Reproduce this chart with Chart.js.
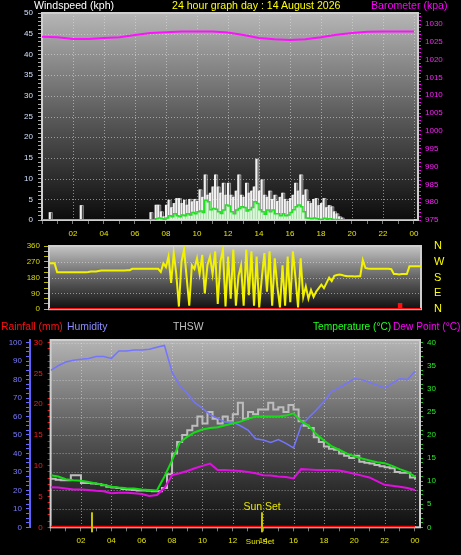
<!DOCTYPE html>
<html><head><meta charset="utf-8">
<script src="https://cdn.jsdelivr.net/npm/chart.js@4/dist/chart.umd.min.js"></script>
<style>
html,body{margin:0;padding:0;background:#000;width:461px;height:555px;overflow:hidden;position:relative;}
canvas{position:absolute;left:0;}
.t{position:absolute;font-family:"Liberation Sans",Arial,sans-serif;font-size:10.6px;line-height:11px;white-space:nowrap;}
</style></head><body>
<canvas id="c1" width="461" height="245" style="top:0px"></canvas>
<canvas id="c2" width="461" height="82" style="top:236px"></canvas>
<canvas id="c3" width="461" height="237" style="top:318px"></canvas>
<div class="t" style="left:34px;top:0px;color:#ffffff">Windspeed (kph)</div>
<div class="t" style="left:172px;top:0px;color:#ffff00">24 hour graph day : 14 August 2026</div>
<div class="t" style="left:371px;top:0px;color:#ff00ff">Barometer (kpa)</div>
<div class="t" style="left:1px;top:321px;color:#ff1010;font-size:10.4px">Rainfall (mm)</div>
<div class="t" style="left:67px;top:321px;color:#8c8cff;font-size:10.4px">Humidity</div>
<div class="t" style="left:173px;top:321px;color:#c0c0c0;font-size:10.4px">THSW</div>
<div class="t" style="left:313px;top:321px;color:#20ff20;font-size:10.2px">Temperature (°C)</div>
<div class="t" style="left:393px;top:321px;color:#ff00ff;font-size:10.2px">Dew Point (°C)</div>
<script>
// ---------- tick labels ----------
const hourTickValues = [2,4,6,8,10,12,14,16,18,20,22,24];
const hourTickText   = ['02','04','06','08','10','12','14','16','18','20','22','00'];
const dirTickValues  = [0,90,180,270,360];
const dirTickText    = ['0','90','180','270','360'];
const compassText    = ['N','E','S','W','N'];

// ---------- sampling intervals (hours) ----------
const windInterval = 1/6;     // 10-minute samples from 00:00
const dirInterval = 1/6;      // 10-minute samples from 00:00
const baroInterval = 1;       // hourly
const climateInterval = 0.5;  // 30-minute samples
const thswInterval = 1/3;     // 20-minute samples

// ---------- panel 1 : wind (kph) and barometer ----------
const windGust = [
 0,0,0,1.8,0,0, 0,0,0,0,0,0, 0,0,0,3.5,0,0, 0,0,0,0,0,0,
 0,0,0,0,0,0, 0,0,0,0,0,0, 0,0,0,0,0,0,
 1.8,0,3.6,3.6,2,0.8,
 3.6,4.8,3,4,5.2,5.2,
 4,4.8,3.6,5,4.4,5,
 4.5,7.3,5.5,10.9,6,6.5,
 8,10.9,8,6.5,8.9,6,
 8.9,6,5.5,7,10.9,6,
 5.5,8.9,6.5,7,8,14.7,
 7,9.7,6,5.5,7,5,
 6,4.5,5.5,6.5,5,4.5,
 5.2,6,8.9,7,10.9,6,
 7.3,4.5,4,5,5.2,3.5,
 4,5.2,3,3.5,3.2,2,
 1.5,0.8,0.5,0,0,0,
 0,0,0,0,0,0, 0,0,0,0,0,0, 0,0,0,0,0,0, 0,0,0,0,0,0,
 0
];
const windAvg = [
 0,0,0,0,0,0, 0,0,0,0,0,0, 0,0,0,0,0,0, 0,0,0,0,0,0,
 0,0,0,0,0,0, 0,0,0,0,0,0, 0,0,0,0,0,0,
 0,0,0.3,0.5,0.3,0.2,
 0.5,1,0.8,1.5,1,0.8,
 1.2,1,1.5,1.2,1.8,1.5,
 2,2.2,1.8,4.8,4.4,2.5,
 2.8,2.6,2,1.6,2.4,3.6,
 3.4,2,1.5,2.4,2.8,3.2,
 3,2.2,2.5,3,4.4,4,
 2.5,2,1.4,2.4,2,2.4,
 1.5,1.5,1,1.5,1,1.2,
 1.8,2.5,3.2,3.6,3.2,2,
 0.5,0.4,0.3,0.5,0.3,0.2,
 0.2,0.4,0.2,0.3,0.2,0,
 0.1,0,0,0,0,0,
 0,0,0,0,0,0, 0,0,0,0,0,0, 0,0,0,0,0,0, 0,0,0,0,0,0,
 0
];
const barometer = [1026.4,1026.3,1025.8,1025.8,1026.1,1026.3,1026.9,1027.5,1027.7,1027.9,1027.9,1027.9,
 1027.6,1026.9,1026.1,1025.7,1025.5,1025.7,1026.3,1027.0,1027.5,1027.8,1027.9,1027.9,1027.9];

// ---------- panel 2 : wind direction (deg) and rain rate ----------
const windDir = [
 262,262,262,262,262,262,
 210,210,210,210,210,210,
 210,210,211,211,211,211,
 212,215,215,215,218,220,
 220,220,220,220,220,220,
 220,221,221,222,222,230,
 230,230,230,230,230,230,
 231,231,231,230,212,262,
 240,300,150,320,200,15,
 270,340,180,20,250,230,
 290,200,310,90,250,300,
 200,330,30,270,340,15,
 300,60,340,20,190,250,
 20,340,80,330,20,300,
 10,180,320,100,330,20,
 290,130,10,250,20,300,
 40,330,180,10,290,70,
 130,60,110,70,100,120,
 140,120,150,180,160,190,
 195,198,195,190,188,188,
 187,186,187,188,280,235,
 232,230,230,230,230,230,
 230,230,230,228,200,200,
 198,200,200,200,244,244,
 244,244,244,244
];
const rainRateTimes  = [0, 23.0, 23.13, 24.5];
const rainRateValues = [0, 0.8, 0, 0];

// ---------- panel 3 : rainfall, humidity, THSW, temperature, dew point ----------
const rainfall = [0,0,0,0,0,0,0,0,0,0,0,0,0,0,0,0,0,0,0,0,0,0,0,0,0];
const humidity = [85,87.5,89.5,90.5,91,91.5,92.5,92.5,91.5,95.5,95.5,96,96,96.5,97.5,98.5,
 84,77,72.5,67.5,64.5,61,59,57,57,55,52.7,48,47.3,46,47.5,45.5,43,55,59.5,63.5,68,73.5,75.5,78,
 80.5,80,78.5,77,75.5,78,80.5,80,84.5];
const temperature = [11.3,11.0,10.4,10.2,10.1,9.8,9.5,9.2,8.8,8.6,8.45,8.4,8.2,8.1,8.0,11.0,
 14.5,18.3,19.6,20.6,21.2,21.5,21.7,22.1,22.5,22.9,23.5,24.0,24.0,24.0,24.0,24.2,24.7,23.0,22.0,
 20.2,18.8,17.6,16.8,16.0,15.4,14.9,14.5,14.1,13.9,13.3,12.6,12.0,11.0];
const dewPoint = [8.7,8.6,8.4,8.2,8.2,8.1,7.9,7.8,7.4,7.5,7.5,7.4,7.2,6.8,7.0,8.5,
 11.3,11.7,12.2,12.8,13.3,13.8,12.4,12.4,12.3,12.2,12.0,11.7,11.3,11.2,11.0,10.9,10.6,12.6,12.5,
 12.4,12.4,12.4,12.3,12.0,11.6,11.2,10.8,10.0,9.2,9.0,8.8,8.5,8.1];
const thsw = [10.5,10.3,10.2, 10.2,11.3,11.3, 9.6,9.6,9.5, 9.4,9.1,8.8, 8.6,8.5,8.3, 8.2,8.1,8.0,
 8.0,7.9,7.8, 7.8,8.5,11.5, 16,18.5,20, 21,22,24, 22.5,25,23.5, 22.5,24,23, 24.5,27,23.5,
 25,24.5,25.5, 25.5,27,25.5, 26,25,26.5, 25.5,23,22, 21.5,19.5,18.5, 17.5,17.0,16.8,
 16.0,15.5,15.0, 15.5,14.2,14.0, 13.8,13.5,13.2, 13.0,12.8,12.0, 11.8,11.8,10.8, 10.3];
const sunriseHour = 2.73;
const sunsetHour = 13.93;

// ---------- helpers ----------
const series = (vals, step) => vals.map((v, i) => ({x: i * step, y: v}));
const hourLabel = v => { const i = hourTickValues.indexOf(v); return i < 0 ? '' : hourTickText[i]; };
const every = n => v => (Math.abs(v % n) < 1e-9 ? String(v) : '');
const fix = (w, h) => s => { if (w != null) s.width = w; if (h != null) s.height = h; };

Chart.defaults.font.family = '"Liberation Sans", Arial, sans-serif';

const panelPlugin = {
  id: 'panel',
  beforeDraw(chart, _a, o) {
    if (!o || !o.stops) return;
    const {ctx, chartArea: a} = chart;
    const g = ctx.createLinearGradient(0, a.top, 0, a.bottom);
    o.stops.forEach(s => g.addColorStop(s[0], s[1]));
    ctx.save(); ctx.fillStyle = g; ctx.fillRect(a.left, a.top, a.right - a.left, a.bottom - a.top); ctx.restore();
  },
  beforeDatasetsDraw(chart, _a, o) {
    if (!o || !o.stops) return;
    const {ctx, chartArea: a} = chart;
    ctx.save();
    ctx.setLineDash([1, 2]);
    ctx.strokeStyle = 'rgba(225,225,225,0.55)';
    ctx.lineWidth = 1;
    if (o.gridX) {
      const xs = chart.scales.x;
      xs.ticks.forEach(t => {
        if (t.value > 0 && t.value % o.gridX === 0) {
          const px = Math.round(xs.getPixelForValue(t.value)) + 0.5;
          ctx.beginPath(); ctx.moveTo(px, a.top); ctx.lineTo(px, a.bottom); ctx.stroke();
        }
      });
    }
    if (o.gridY) {
      const ys = chart.scales[o.gridY];
      ys.ticks.forEach(t => {
        if (t.value > 0 && Math.abs(t.value % o.gridYStep) < 1e-9) {
          const py = Math.round(ys.getPixelForValue(t.value)) + 0.5;
          ctx.beginPath(); ctx.moveTo(a.left, py); ctx.lineTo(a.right, py); ctx.stroke();
        }
      });
    }
    ctx.setLineDash([]);
    ctx.strokeStyle = '#cfcfcf';
    ctx.lineWidth = 2;
    ctx.strokeRect(a.left, a.top, a.right - a.left, a.bottom - a.top);
    ctx.restore();
  }
};
Chart.register(panelPlugin);

const base = {
  responsive: false, animation: false, devicePixelRatio: 1, events: [],
  plugins: {legend: {display: false}, tooltip: {enabled: false}},
  elements: {point: {radius: 0}, line: {tension: 0}}
};
const tickFont = {size: 8};

// ---------- chart 1 ----------
new Chart(document.getElementById('c1'), {
  type: 'line',
  data: {datasets: [
    {label: 'Barometer', data: series(barometer, baroInterval), yAxisID: 'baro', borderColor: '#ff10ff', borderWidth: 2},
    {label: 'Wind speed', data: series(windAvg, windInterval), yAxisID: 'y', borderColor: '#22e022', borderWidth: 1.5,
     backgroundColor: 'rgba(195,255,195,0.6)', fill: 'origin', stepped: 'before'},
    {type: 'bar', label: 'Gust', data: series(windGust, windInterval), yAxisID: 'y',
     backgroundColor: '#f2f2f2', borderWidth: 0, barThickness: 1.5},
    {label: 'Gust envelope', data: series(windGust, windInterval), yAxisID: 'y', borderColor: 'rgba(255,255,255,0.55)', borderWidth: 0.8,
     backgroundColor: 'rgba(225,225,225,0.22)', fill: 'origin', stepped: 'before'}
  ]},
  options: {...base,
    layout: {padding: {top: 13}},
    plugins: {...base.plugins, panel: {stops: [[0, '#b6b6b6'], [0.5, '#5a5a5a'], [1, '#0c0c0c']], gridX: 2, gridY: 'y', gridYStep: 5}},
    scales: {
      x: {type: 'linear', offset: false, min: 0, max: 24.26, afterFit: fix(null, 25),
          grid: {drawOnChartArea: false, offset: false, tickLength: 4, tickColor: '#7a7a7a'}, border: {display: false},
          ticks: {stepSize: 1, autoSkip: false, includeBounds: false, maxRotation: 0, padding: 5, color: '#e4e400', font: tickFont, callback: hourLabel}},
      y: {position: 'left', min: 0, max: 50, afterFit: fix(42),
          grid: {drawOnChartArea: false, tickLength: 4, tickColor: '#a8a8a8'}, border: {display: false},
          ticks: {stepSize: 1, autoSkip: false, includeBounds: false, padding: 5, color: '#cfe0ff', font: tickFont, callback: every(5)}},
      baro: {position: 'right', min: 975, max: 1033.09, afterFit: fix(43),
          grid: {drawOnChartArea: false, tickLength: 3, tickColor: '#ff00ff'}, border: {display: false},
          ticks: {stepSize: 1, autoSkip: false, includeBounds: false, padding: 4, color: '#ff20ff', font: tickFont, callback: every(5)}}
    }
  }
});

// ---------- chart 2 ----------
new Chart(document.getElementById('c2'), {
  type: 'line',
  data: {datasets: [
    {label: 'Rain rate', data: rainRateTimes.map((t, i) => ({x: t, y: rainRateValues[i]})), yAxisID: 'yRate',
     borderColor: '#ff1010', borderWidth: 2.5, stepped: 'before'},
    {label: 'Wind direction', data: series(windDir, dirInterval), yAxisID: 'y', borderColor: '#f2f200', borderWidth: 2}
  ]},
  options: {...base,
    layout: {padding: {top: 10, bottom: 8}},
    plugins: {...base.plugins, panel: {stops: [[0, '#c4c4c4'], [0.5, '#636363'], [1, '#101010']], gridY: 'y', gridYStep: 90}},
    scales: {
      x: {type: 'linear', display: false, min: 0.476, max: 24.41},
      y: {position: 'left', min: 0, max: 360, afterFit: fix(49),
          grid: {drawOnChartArea: false, tickLength: 5, tickColor: '#b8b800'}, border: {display: false},
          ticks: {stepSize: 30, autoSkip: false, padding: 4, color: '#d8d800', font: tickFont,
                  callback: v => { const i = dirTickValues.indexOf(v); return i < 0 ? '' : dirTickText[i]; }}},
      yCompass: {axis: 'y', position: 'right', min: 0, max: 360, afterFit: fix(40),
          grid: {display: true, drawOnChartArea: false, drawTicks: true, tickLength: 11, tickColor: 'rgba(0,0,0,0)'}, border: {display: false},
          ticks: {stepSize: 90, autoSkip: false, padding: 2, color: '#ffff00', font: {size: 11},
                  callback: v => { const i = dirTickValues.indexOf(v); return i < 0 ? '' : compassText[i]; }}},
      yRate: {axis: 'y', position: 'right', display: false, min: 0, max: 10}
    }
  }
});

// ---------- chart 3 ----------
const sunPlugin = {
  id: 'sun',
  afterDatasetsDraw(chart) {
    const {ctx, chartArea: a} = chart;
    const xs = chart.scales.x;
    ctx.save();
    ctx.fillStyle = '#c4c400';
    [sunriseHour, sunsetHour].forEach(h => {
      const px = Math.round(xs.getPixelForValue(h));
      ctx.fillRect(px - 1, a.bottom - 15, 2, 20);
    });
    const sx = xs.getPixelForValue(sunsetHour);
    ctx.fillStyle = '#e6e600';
    ctx.textAlign = 'center';
    ctx.textBaseline = 'alphabetic';
    ctx.font = '10.5px "Liberation Sans", Arial, sans-serif';
    ctx.fillText('Sun Set', sx, a.bottom - 17);
    ctx.font = '8px "Liberation Sans", Arial, sans-serif';
    ctx.textBaseline = 'middle';
    ctx.fillText('Sun Set', sx - 2, a.bottom + 14.5);
    ctx.restore();
  }
};
new Chart(document.getElementById('c3'), {
  type: 'line',
  data: {datasets: [
    {label: 'Rainfall (mm)', data: series(rainfall, 1), yAxisID: 'yRain', borderColor: '#ff0000', borderWidth: 3},
    {label: 'Temperature (°C)', data: series(temperature, climateInterval), yAxisID: 'yTemp', borderColor: '#14dc14', borderWidth: 2},
    {label: 'Humidity', data: series(humidity, climateInterval), yAxisID: 'yHum', borderColor: '#7474ff', borderWidth: 1.5},
    {label: 'Dew Point (°C)', data: series(dewPoint, climateInterval), yAxisID: 'yTemp', borderColor: '#e010e0', borderWidth: 2},
    {label: 'THSW', data: series(thsw, thswInterval), yAxisID: 'yTemp', borderColor: '#bdbdbd', borderWidth: 2, stepped: 'before'}
  ]},
  options: {...base,
    layout: {padding: {top: 22}},
    plugins: {...base.plugins, panel: {stops: [[0, '#b4b4b4'], [0.5, '#585858'], [1, '#0e0e0e']], gridX: 2, gridY: 'yHum', gridYStep: 10}},
    scales: {
      x: {type: 'linear', min: 0, max: 24.33, afterFit: fix(null, 27.7),
          grid: {drawOnChartArea: false, tickLength: 4, tickColor: '#7a7a7a'}, border: {display: false},
          ticks: {stepSize: 1, autoSkip: false, includeBounds: false, maxRotation: 0, padding: 5, color: '#e4e400', font: tickFont, callback: hourLabel}},
      yHum: {axis: 'y', position: 'left', weight: 1, min: 0, max: 101.46, afterFit: fix(30),
          grid: {drawOnChartArea: false, tickLength: 4, tickColor: '#6a6aff'}, border: {display: true, color: '#6262ff', width: 2},
          ticks: {stepSize: 2.5, autoSkip: false, includeBounds: false, padding: 4, color: '#7c7cff', font: tickFont, callback: every(10)}},
      yRain: {axis: 'y', position: 'left', weight: 0, min: 0, max: 30.44, afterFit: fix(20.6),
          grid: {drawOnChartArea: false, tickLength: 3, tickColor: '#e01818'}, border: {display: false},
          ticks: {stepSize: 1, autoSkip: false, includeBounds: false, padding: 5, color: '#ff1c1c', font: tickFont, callback: every(5)}},
      yTemp: {axis: 'y', position: 'right', min: 0, max: 40.58, afterFit: fix(41),
          grid: {drawOnChartArea: false, tickLength: 3, tickColor: '#20d020'}, border: {display: false},
          ticks: {stepSize: 1, autoSkip: false, includeBounds: false, padding: 4, color: '#22ee22', font: tickFont, callback: every(5)}}
    }
  },
  plugins: [sunPlugin]
});
</script>
</body></html>
